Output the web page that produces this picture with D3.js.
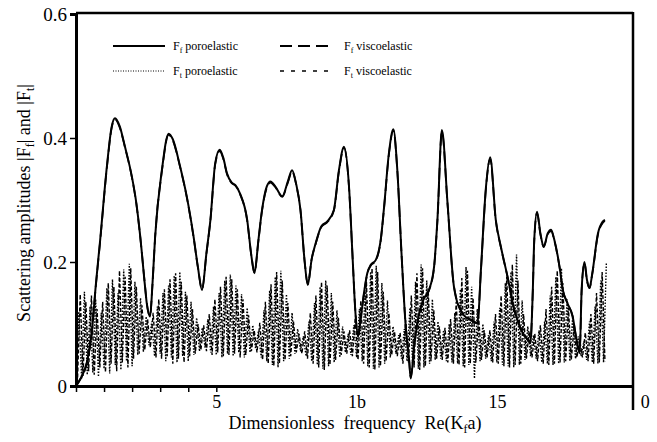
<!DOCTYPE html>
<html>
<head>
<meta charset="utf-8">
<script src="https://cdn.jsdelivr.net/npm/d3@7/dist/d3.min.js"></script>
<style>
  body { margin: 0; background: #fff; }
  svg { display: block; }
  text { font-family: "Liberation Serif", "Times New Roman", serif; fill: #000; }
</style>
</head>
<body>
<svg id="chart" width="657" height="442"></svg>
<script>
// Far-field amplitude |F_f| (fast wave), sampled at the computed frequencies
const ffFreq = [0.00,0.14,0.38,0.56,0.70,0.86,1.10,1.27,1.39,1.55,1.75,1.99,2.15,2.29,2.45,2.52,2.64,2.72,2.82,3.06,
  3.30,3.45,3.71,3.95,4.19,4.35,4.49,4.65,4.79,4.96,5.12,5.25,5.38,5.55,5.68,5.85,6.10,6.25,6.36,6.50,
  6.63,6.80,6.93,7.10,7.35,7.55,7.70,7.85,8.00,8.15,8.26,8.40,8.54,8.75,8.95,9.19,9.37,9.55,9.73,9.85,
  9.96,10.05,10.15,10.26,10.38,10.50,10.68,10.86,10.98,11.15,11.31,11.45,11.60,11.75,11.87,11.93,12.05,12.23,12.40,12.58,
  12.76,12.88,13.04,13.24,13.47,13.77,14.07,14.31,14.43,14.61,14.76,14.96,15.14,15.38,15.62,15.86,16.10,16.19,16.28,16.33,
  16.43,16.55,16.67,16.81,16.93,17.05,17.23,17.35,17.52,17.70,17.82,17.95,18.02,18.12,18.21,18.30,18.40,18.60,18.77,18.85];
const ffPoro = [0.000,0.010,0.037,0.085,0.160,0.235,0.354,0.418,0.432,0.420,0.385,0.338,0.295,0.241,0.165,0.134,0.112,0.160,0.241,0.348,
  0.407,0.398,0.354,0.305,0.241,0.190,0.155,0.215,0.268,0.359,0.381,0.368,0.343,0.328,0.324,0.310,0.268,0.210,0.182,0.235,
  0.284,0.322,0.330,0.322,0.306,0.330,0.348,0.325,0.284,0.200,0.163,0.205,0.230,0.258,0.265,0.284,0.348,0.386,0.321,0.214,
  0.117,0.080,0.110,0.149,0.182,0.195,0.203,0.236,0.289,0.375,0.414,0.349,0.214,0.096,0.042,0.012,0.064,0.117,0.141,0.155,
  0.192,0.268,0.413,0.295,0.160,0.117,0.106,0.101,0.187,0.321,0.369,0.268,0.225,0.176,0.123,0.091,0.074,0.069,0.155,0.235,
  0.281,0.246,0.225,0.246,0.252,0.235,0.193,0.155,0.133,0.112,0.079,0.053,0.155,0.200,0.171,0.158,0.182,0.246,0.265,0.268];
const ffVisco = [0.000,0.010,0.036,0.084,0.158,0.233,0.352,0.416,0.430,0.418,0.384,0.337,0.294,0.240,0.166,0.135,0.113,0.160,0.240,0.346,
  0.405,0.396,0.353,0.304,0.240,0.190,0.156,0.214,0.267,0.357,0.379,0.366,0.342,0.327,0.323,0.309,0.267,0.210,0.183,0.234,
  0.283,0.320,0.328,0.321,0.305,0.328,0.346,0.324,0.283,0.200,0.164,0.205,0.229,0.257,0.264,0.283,0.346,0.384,0.320,0.214,
  0.118,0.081,0.110,0.148,0.181,0.194,0.202,0.235,0.288,0.373,0.412,0.348,0.214,0.097,0.043,0.014,0.065,0.117,0.140,0.154,
  0.191,0.267,0.410,0.294,0.160,0.118,0.107,0.102,0.186,0.319,0.366,0.267,0.224,0.176,0.123,0.092,0.075,0.070,0.154,0.233,
  0.279,0.245,0.224,0.245,0.250,0.234,0.192,0.155,0.133,0.112,0.080,0.055,0.154,0.198,0.170,0.158,0.181,0.244,0.263,0.266];

// Far-field amplitude |F_t| (shear wave), uniform frequency grid
const ftPoroStart = 0.0, ftViscoStart = 0.05, ftStep = 0.1;
const ftPoro = [0.000,0.120,0.012,0.152,0.018,0.128,0.022,0.140,0.015,0.118,0.028,0.158,0.020,0.172,0.034,0.150,0.026,0.188,0.040,0.197,
  0.032,0.168,0.050,0.142,0.055,0.112,0.066,0.104,0.048,0.128,0.052,0.150,0.040,0.162,0.046,0.178,0.038,0.184,0.048,0.152,
  0.040,0.136,0.050,0.110,0.056,0.094,0.062,0.108,0.054,0.128,0.050,0.150,0.046,0.170,0.052,0.180,0.048,0.162,0.054,0.148,
  0.046,0.126,0.054,0.098,0.060,0.088,0.046,0.122,0.040,0.154,0.034,0.176,0.030,0.186,0.040,0.148,0.044,0.118,0.052,0.092,
  0.056,0.080,0.048,0.104,0.040,0.134,0.034,0.160,0.028,0.170,0.032,0.150,0.038,0.122,0.046,0.096,0.054,0.084,0.050,0.098,
  0.046,0.124,0.040,0.152,0.032,0.184,0.028,0.194,0.030,0.166,0.036,0.138,0.046,0.096,0.052,0.082,0.044,0.092,0.040,0.126,
  0.034,0.168,0.028,0.196,0.030,0.170,0.036,0.140,0.042,0.104,0.044,0.090,0.040,0.100,0.038,0.118,0.036,0.156,0.032,0.192,
  0.034,0.160,0.012,0.124,0.040,0.100,0.044,0.082,0.040,0.104,0.038,0.126,0.034,0.166,0.032,0.184,0.030,0.212,0.034,0.138,
  0.042,0.096,0.048,0.082,0.044,0.090,0.038,0.104,0.036,0.146,0.034,0.176,0.036,0.190,0.038,0.140,0.040,0.112,0.044,0.080,
  0.048,0.072,0.042,0.104,0.038,0.128,0.036,0.170,0.038,0.198];
const ftVisco = [0.004,0.148,0.016,0.136,0.024,0.146,0.018,0.124,0.030,0.136,0.022,0.166,0.036,0.160,0.024,0.186,0.038,0.176,0.030,0.190,
  0.044,0.160,0.052,0.130,0.058,0.108,0.062,0.118,0.046,0.140,0.044,0.156,0.048,0.172,0.036,0.182,0.044,0.168,0.038,0.146,
  0.048,0.124,0.052,0.100,0.058,0.098,0.056,0.116,0.050,0.140,0.054,0.160,0.048,0.176,0.050,0.172,0.052,0.156,0.046,0.140,
  0.050,0.114,0.056,0.090,0.054,0.102,0.042,0.136,0.036,0.164,0.032,0.184,0.036,0.170,0.042,0.134,0.048,0.104,0.054,0.084,
  0.052,0.088,0.044,0.118,0.036,0.146,0.030,0.168,0.026,0.162,0.034,0.136,0.042,0.110,0.050,0.088,0.052,0.090,0.048,0.110,
  0.042,0.138,0.036,0.168,0.030,0.190,0.026,0.184,0.032,0.152,0.040,0.118,0.050,0.088,0.048,0.086,0.036,0.106,0.038,0.146,
  0.030,0.182,0.026,0.190,0.032,0.156,0.040,0.122,0.044,0.096,0.042,0.094,0.038,0.108,0.036,0.136,0.034,0.174,0.030,0.186,
  0.036,0.142,0.038,0.112,0.042,0.090,0.046,0.090,0.038,0.116,0.036,0.146,0.032,0.176,0.030,0.196,0.034,0.170,0.036,0.116,
  0.044,0.088,0.046,0.084,0.040,0.098,0.036,0.124,0.034,0.160,0.036,0.186,0.038,0.166,0.040,0.126,0.042,0.096,0.046,0.074,
  0.046,0.086,0.040,0.116,0.036,0.150,0.038,0.184,0.040];

// Axis ticks and labels
const xMinorTicks = [0, 1, 2, 3, 4, 5];
const xTicks = [5, 10, 15, 20];
const xTickLabels = ["5", "1b", "15", "0"];
const yTicks = [0, 0.2, 0.4, 0.6];
const yTickLabels = ["0", "0.2", "0.4", "0.6"];

const svg = d3.select("#chart");
const plotLeft = 76, plotRight = 633, plotTop = 14, plotBottom = 386;
const serif = "Liberation Serif, Times New Roman, serif";

const x = d3.scaleLinear().domain([0, 19.85]).range([plotLeft, plotRight]);
const y = d3.scaleLinear().domain([0, 0.6]).range([plotBottom, plotTop]);

// Shear-wave amplitudes (dense oscillation band)
const ftLine = (start) => d3.line()
  .x((d, i) => x(start + i * ftStep))
  .y(d => y(d));

svg.append("path").datum(ftPoro)
  .attr("d", ftLine(ftPoroStart))
  .attr("fill", "none").attr("stroke", "#000")
  .attr("stroke-width", 1.4).attr("stroke-dasharray", "1.5,1.5");

svg.append("path").datum(ftVisco)
  .attr("d", ftLine(ftViscoStart))
  .attr("fill", "none").attr("stroke", "#000")
  .attr("stroke-width", 1.4).attr("stroke-dasharray", "4,2");

// Fast-wave amplitudes
const ffLine = (vals) => d3.line()
  .x((d, i) => x(ffFreq[i]))
  .y(d => y(d))
  .curve(d3.curveMonotoneX)(vals);

svg.append("path")
  .attr("d", ffLine(ffVisco))
  .attr("fill", "none").attr("stroke", "#000")
  .attr("stroke-width", 1.8).attr("stroke-dasharray", "12,5");

svg.append("path")
  .attr("d", ffLine(ffPoro))
  .attr("fill", "none").attr("stroke", "#000")
  .attr("stroke-width", 2);

// Frame: top and right edges
svg.append("line").attr("x1", plotLeft).attr("x2", plotRight).attr("y1", plotTop - 1).attr("y2", plotTop - 1)
  .attr("stroke", "#000").attr("stroke-width", 2.5);
svg.append("line").attr("x1", plotRight).attr("x2", plotRight).attr("y1", plotTop - 2).attr("y2", 410)
  .attr("stroke", "#000").attr("stroke-width", 2.5);

// Y axis
const yAxis = svg.append("g").attr("transform", `translate(${plotLeft},0)`)
  .call(d3.axisLeft(y).tickValues(yTicks).tickSize(6).tickPadding(3)
    .tickFormat((d, i) => yTickLabels[i]));
yAxis.attr("font-family", serif);
yAxis.select(".domain").attr("stroke-width", 3);
yAxis.selectAll(".tick line").attr("stroke-width", 1.5);
yAxis.selectAll("text").attr("font-size", 19).attr("font-family", serif);

// X axis: unit ticks along the first stretch, labels at multiples of five
const xAxis = svg.append("g").attr("transform", `translate(0,${plotBottom})`)
  .call(d3.axisBottom(x).tickValues(xMinorTicks).tickSize(6).tickSizeOuter(0).tickFormat(""));
xAxis.select(".domain").attr("stroke-width", 3);
xAxis.selectAll(".tick line").attr("stroke-width", 1.5);

const xLab = svg.append("g").attr("transform", `translate(0,${plotBottom})`)
  .call(d3.axisBottom(x).tickValues(xTicks).tickSize(0).tickPadding(9)
    .tickFormat((d, i) => xTickLabels[i]));
xLab.attr("font-family", serif);
xLab.select(".domain").remove();
xLab.selectAll("text").attr("font-size", 18).attr("font-family", serif)
  .attr("text-anchor", (d, i) => i === xTicks.length - 1 ? "start" : "middle")
  .attr("dx", (d, i) => i === xTicks.length - 1 ? 3 : 0);

// Axis titles
const xt = svg.append("text").attr("x", 355).attr("y", 429)
  .attr("text-anchor", "middle").attr("font-size", 18).attr("font-family", serif)
  .style("white-space", "pre");
xt.append("tspan").text("Dimensionless  frequency  Re(K");
xt.append("tspan").attr("font-size", 12).attr("dy", 4).text("f");
xt.append("tspan").attr("dy", -4).text("a)");

const yt = svg.append("text").attr("transform", "translate(30,203) rotate(-90)")
  .attr("text-anchor", "middle").attr("font-size", 18).attr("font-family", serif);
yt.append("tspan").text("Scattering amplitudes |F");
yt.append("tspan").attr("font-size", 12).attr("dy", 4).text("f");
yt.append("tspan").attr("dy", -4).text("| and |F");
yt.append("tspan").attr("font-size", 12).attr("dy", 4).text("t");
yt.append("tspan").attr("dy", -4).text("|");

// Legend
const legendItems = [
  { x: 113, y: 46, dash: null, w: 1.8, sub: "f", label: " poroelastic" },
  { x: 280, y: 46, dash: "12,6", w: 1.8, sub: "f", label: " viscoelastic" },
  { x: 113, y: 71, dash: "1,1.5", w: 1, sub: "t", label: " poroelastic" },
  { x: 280, y: 71, dash: "4,7", w: 1.3, sub: "t", label: " viscoelastic" }
];
const lg = svg.append("g").selectAll("g").data(legendItems).join("g")
  .attr("transform", d => `translate(${d.x},${d.y})`);
lg.append("line").attr("x1", 0).attr("x2", 52).attr("y1", 0).attr("y2", 0)
  .attr("stroke", "#000").attr("stroke-width", d => d.w)
  .attr("stroke-dasharray", d => d.dash);
const lt = lg.append("text").attr("x", d => d.x === 113 ? 60 : 64).attr("y", 4)
  .attr("font-size", 12).attr("font-family", serif);
lt.append("tspan").text("F");
lt.append("tspan").attr("font-size", 8).attr("dy", 3).text(d => d.sub);
lt.append("tspan").attr("dy", -3).text(d => d.label);
</script>
</body>
</html>
